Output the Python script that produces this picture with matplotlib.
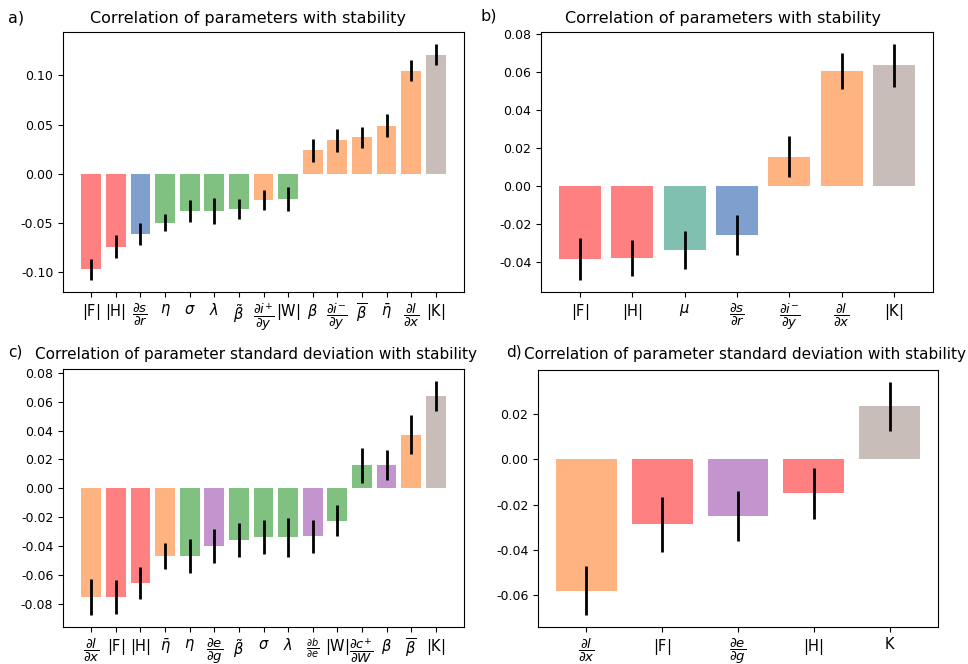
import numpy as np
import matplotlib
matplotlib.use("Agg")
import matplotlib.pyplot as plt

RED = "#ff8080"
GREEN = "#80c080"
BLUE = "#7f9fcf"
ORANGE = "#ffb380"
TEAL = "#80c0b0"
PURPLE = "#c494cf"
GRAY = "#c8bdb8"

# panel a: parameters vs stability
labels_a = [r"$|$F$|$", r"$|$H$|$", r"$\dfrac{\partial s}{\partial r}$", r"$\eta$", r"$\sigma$",
            r"$\lambda$", r"$\tilde{\beta}$", r"$\dfrac{\partial i^{+}}{\partial y}$", r"$|$W$|$",
            r"$\beta$", r"$\dfrac{\partial i^{-}}{\partial y}$", r"$\overline{\beta}$",
            r"$\bar{\eta}$", r"$\dfrac{\partial l}{\partial x}$", r"$|$K$|$"]
values_a = [-0.097, -0.074, -0.061, -0.0495, -0.0377, -0.0377, -0.0354, -0.0266, -0.0253,
            0.024, 0.034, 0.037, 0.049, 0.1047, 0.121]
errors_a = [0.011, 0.0118, 0.011, 0.0089, 0.0108, 0.0135, 0.0103, 0.0099, 0.0123,
            0.0118, 0.0118, 0.011, 0.012, 0.0108, 0.011]
colors_a = [RED, RED, BLUE, GREEN, GREEN, GREEN, GREEN, ORANGE, GREEN,
            ORANGE, ORANGE, ORANGE, ORANGE, ORANGE, GRAY]

# panel b: parameters vs stability (reduced set)
labels_b = [r"$|$F$|$", r"$|$H$|$", r"$\mu$", r"$\dfrac{\partial s}{\partial r}$",
            r"$\dfrac{\partial i^{-}}{\partial y}$", r"$\dfrac{\partial l}{\partial x}$", r"$|$K$|$"]
values_b = [-0.0383, -0.0376, -0.0335, -0.0256, 0.0157, 0.0605, 0.0637]
errors_b = [0.011, 0.0096, 0.0099, 0.0107, 0.011, 0.0095, 0.0113]
colors_b = [RED, RED, TEAL, BLUE, ORANGE, ORANGE, GRAY]

# panel c: parameter std vs stability
labels_c = [r"$\dfrac{\partial l}{\partial x}$", r"$|$F$|$", r"$|$H$|$", r"$\bar{\eta}$", r"$\eta$",
            r"$\dfrac{\partial e}{\partial g}$", r"$\tilde{\beta}$", r"$\sigma$", r"$\lambda$",
            r"$\frac{\partial b}{\partial e}$", r"$|$W$|$", r"$\dfrac{\partial c^{+}}{\partial W}$",
            r"$\beta$", r"$\overline{\beta}$", r"$|$K$|$"]
values_c = [-0.0752, -0.0752, -0.0657, -0.0468, -0.0468, -0.040, -0.0359, -0.0339, -0.0339,
            -0.0332, -0.0224, 0.016, 0.016, 0.037, 0.064]
errors_c = [0.0127, 0.0117, 0.011, 0.009, 0.0119, 0.012, 0.0118, 0.0119, 0.0134,
            0.0114, 0.0107, 0.012, 0.0104, 0.0135, 0.0105]
colors_c = [ORANGE, RED, RED, ORANGE, GREEN, PURPLE, GREEN, GREEN, GREEN,
            PURPLE, GREEN, GREEN, PURPLE, ORANGE, GRAY]

# panel d: parameter std vs stability (reduced set)
labels_d = [r"$\dfrac{\partial l}{\partial x}$", r"$|$F$|$", r"$\dfrac{\partial e}{\partial g}$",
            r"$|$H$|$", "K"]
values_d = [-0.058, -0.0287, -0.025, -0.015, 0.0232]
errors_d = [0.0108, 0.012, 0.011, 0.0113, 0.0109]
colors_d = [ORANGE, RED, PURPLE, RED, GRAY]


def bar_panel(ax, labels, values, errors, colors, xpad=None):
    x = np.arange(len(values))
    ax.bar(x, values, width=0.8, color=colors, yerr=errors,
           error_kw=dict(ecolor="black", elinewidth=2, capsize=0))
    ax.set_xticks(x)
    ticklabels = ax.set_xticklabels(labels, fontsize=10.5)
    for t in ticklabels:
        if "dfrac" in t.get_text():
            t.set_fontsize(9.5)
        elif "frac" in t.get_text():
            t.set_fontsize(10)
    ax.tick_params(axis="y", labelsize=9)
    if xpad is not None:
        ax.set_xlim(-xpad, len(values) - 1 + xpad)


fig = plt.figure(figsize=(9.68, 6.64), dpi=100)
W, H = 968.0, 664.0


def add_axes(l, t, r, b):
    return fig.add_axes([l / W, 1 - b / H, (r - l) / W, (b - t) / H])


ax_a = add_axes(63, 32, 464, 292)
ax_b = add_axes(541, 32, 933, 292)
ax_c = add_axes(63, 369, 464, 627)
ax_d = add_axes(538, 370, 938, 627)

bar_panel(ax_a, labels_a, values_a, errors_a, colors_a, xpad=1.15)
bar_panel(ax_b, labels_b, values_b, errors_b, colors_b)
bar_panel(ax_c, labels_c, values_c, errors_c, colors_c, xpad=1.15)
bar_panel(ax_d, labels_d, values_d, errors_d, colors_d)

ax_a.set_yticks([-0.10, -0.05, 0.00, 0.05, 0.10])
ax_b.set_yticks([-0.04, -0.02, 0.00, 0.02, 0.04, 0.06, 0.08])
ax_c.set_yticks([-0.08, -0.06, -0.04, -0.02, 0.00, 0.02, 0.04, 0.06, 0.08])
ax_d.set_yticks([-0.06, -0.04, -0.02, 0.00, 0.02])
for ax in (ax_a, ax_b, ax_c, ax_d):
    ax.yaxis.set_major_formatter(matplotlib.ticker.FormatStrFormatter("%.2f"))

fig.text(8 / W, 1 - 18 / H, "a)", fontsize=11.5, va="center")
fig.text(90 / W, 1 - 18 / H, "Correlation of parameters with stability", fontsize=11.5, va="center")
fig.text(480 / W, 1 - 16 / H, "b)", fontsize=11.5, va="center")
fig.text(565 / W, 1 - 18 / H, "Correlation of parameters with stability", fontsize=11.5, va="center")
fig.text(8 / W, 1 - 352 / H, "c)", fontsize=11, va="center")
fig.text(35 / W, 1 - 354 / H, "Correlation of parameter standard deviation with stability",
         fontsize=11, va="center")
fig.text(506 / W, 1 - 352 / H, "d)", fontsize=11, va="center")
fig.text(524 / W, 1 - 354 / H, "Correlation of parameter standard deviation with stability",
         fontsize=11, va="center")

fig.savefig("out.png", dpi=100)
